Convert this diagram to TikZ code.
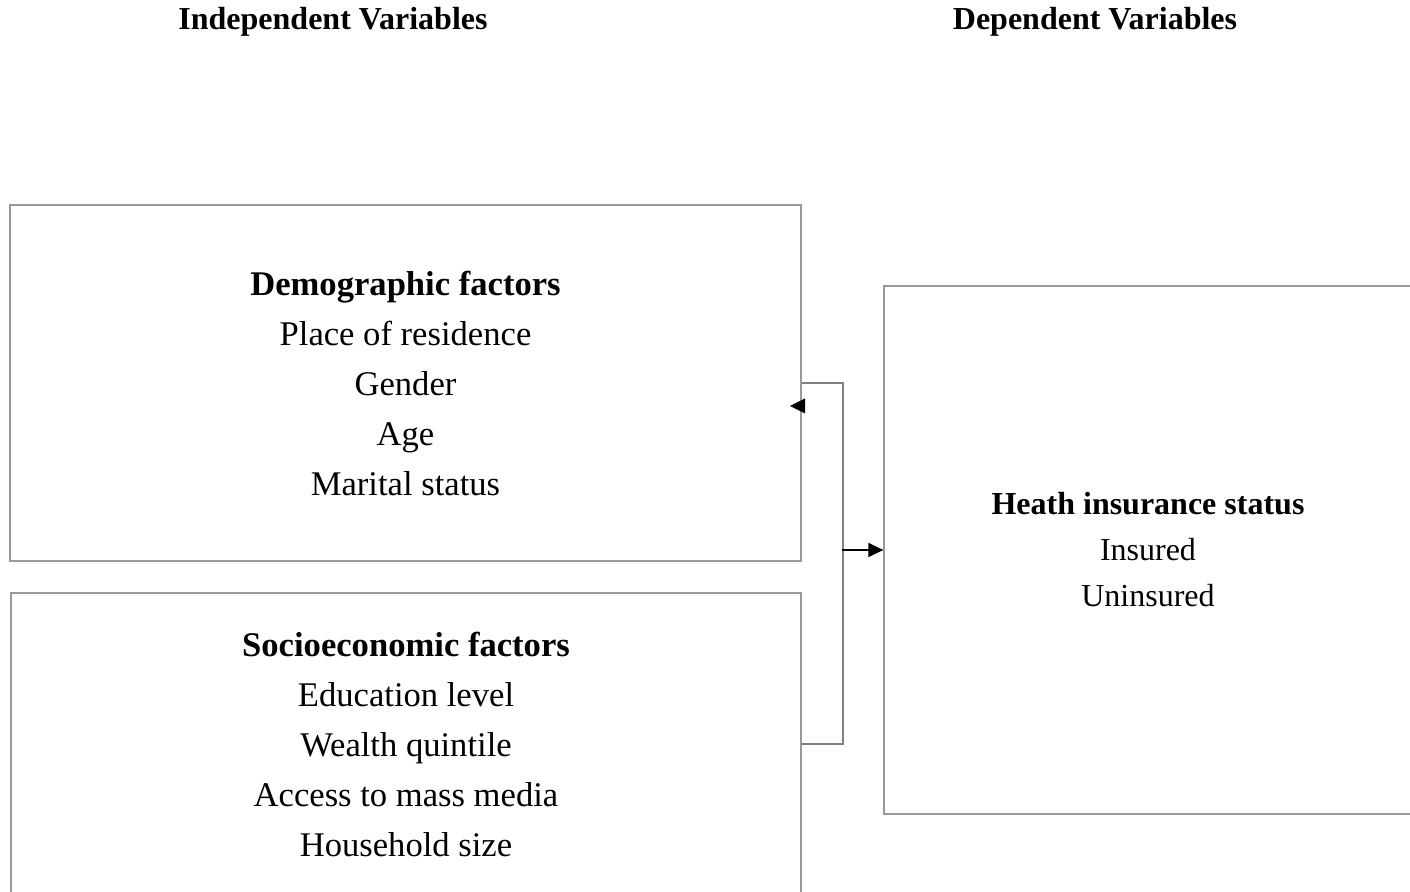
\documentclass[tikz,border=0pt]{standalone}
\usepackage{fontspec}
\setmainfont{Liberation Serif}
\usetikzlibrary{arrows.meta,positioning}

\tikzset{
  factorbox/.style={draw=black!40, line width=0.65pt, align=center, inner sep=0pt,
    font=\fontsize{17.3pt}{25pt}\selectfont},
  headlabel/.style={anchor=base, font=\fontsize{16pt}{19pt}\selectfont\bfseries},
  link/.style={draw=black!50, line width=1pt},
}

\begin{document}
\begin{tikzpicture}[x=0.5pt, y=-0.5pt, >={Triangle[length=7.5pt,width=7pt]}]
  \useasboundingbox (0,0) rectangle (1410,892);
  % column headings
  \node[headlabel] (indep) at (333,30) {Independent Variables};
  \node[headlabel] (dep) at (1095,30) {Dependent Variables};
  % factor boxes
  \node[factorbox, minimum width=395.5pt, minimum height=178pt] (demo) at (405.5,383)
    {\textbf{Demographic factors}\\Place of residence\\Gender\\Age\\Marital status};
  \node[factorbox, minimum width=395pt, minimum height=151pt] (socio) at (406,744)
    {\textbf{Socioeconomic factors}\\Education level\\Wealth quintile\\Access to mass media\\Household size};
  % outcome box (its right side runs off the page)
  \node[factorbox, minimum width=264pt, minimum height=264pt,
    font=\fontsize{16pt}{23pt}\selectfont] (status) at (1148,550)
    {\textbf{Heath insurance status}\\Insured\\Uninsured};
  % bracket joining the factors
  \draw[link] (demo.east) -- ++(41,0) |- (socio.east);
  \coordinate (join) at (842,550);
  \draw[->, line width=0.8pt] (join) -- (status.west);
  \fill (805,398.5) -- (790,406) -- (805,413.5) -- cycle;
\end{tikzpicture}
\end{document}
